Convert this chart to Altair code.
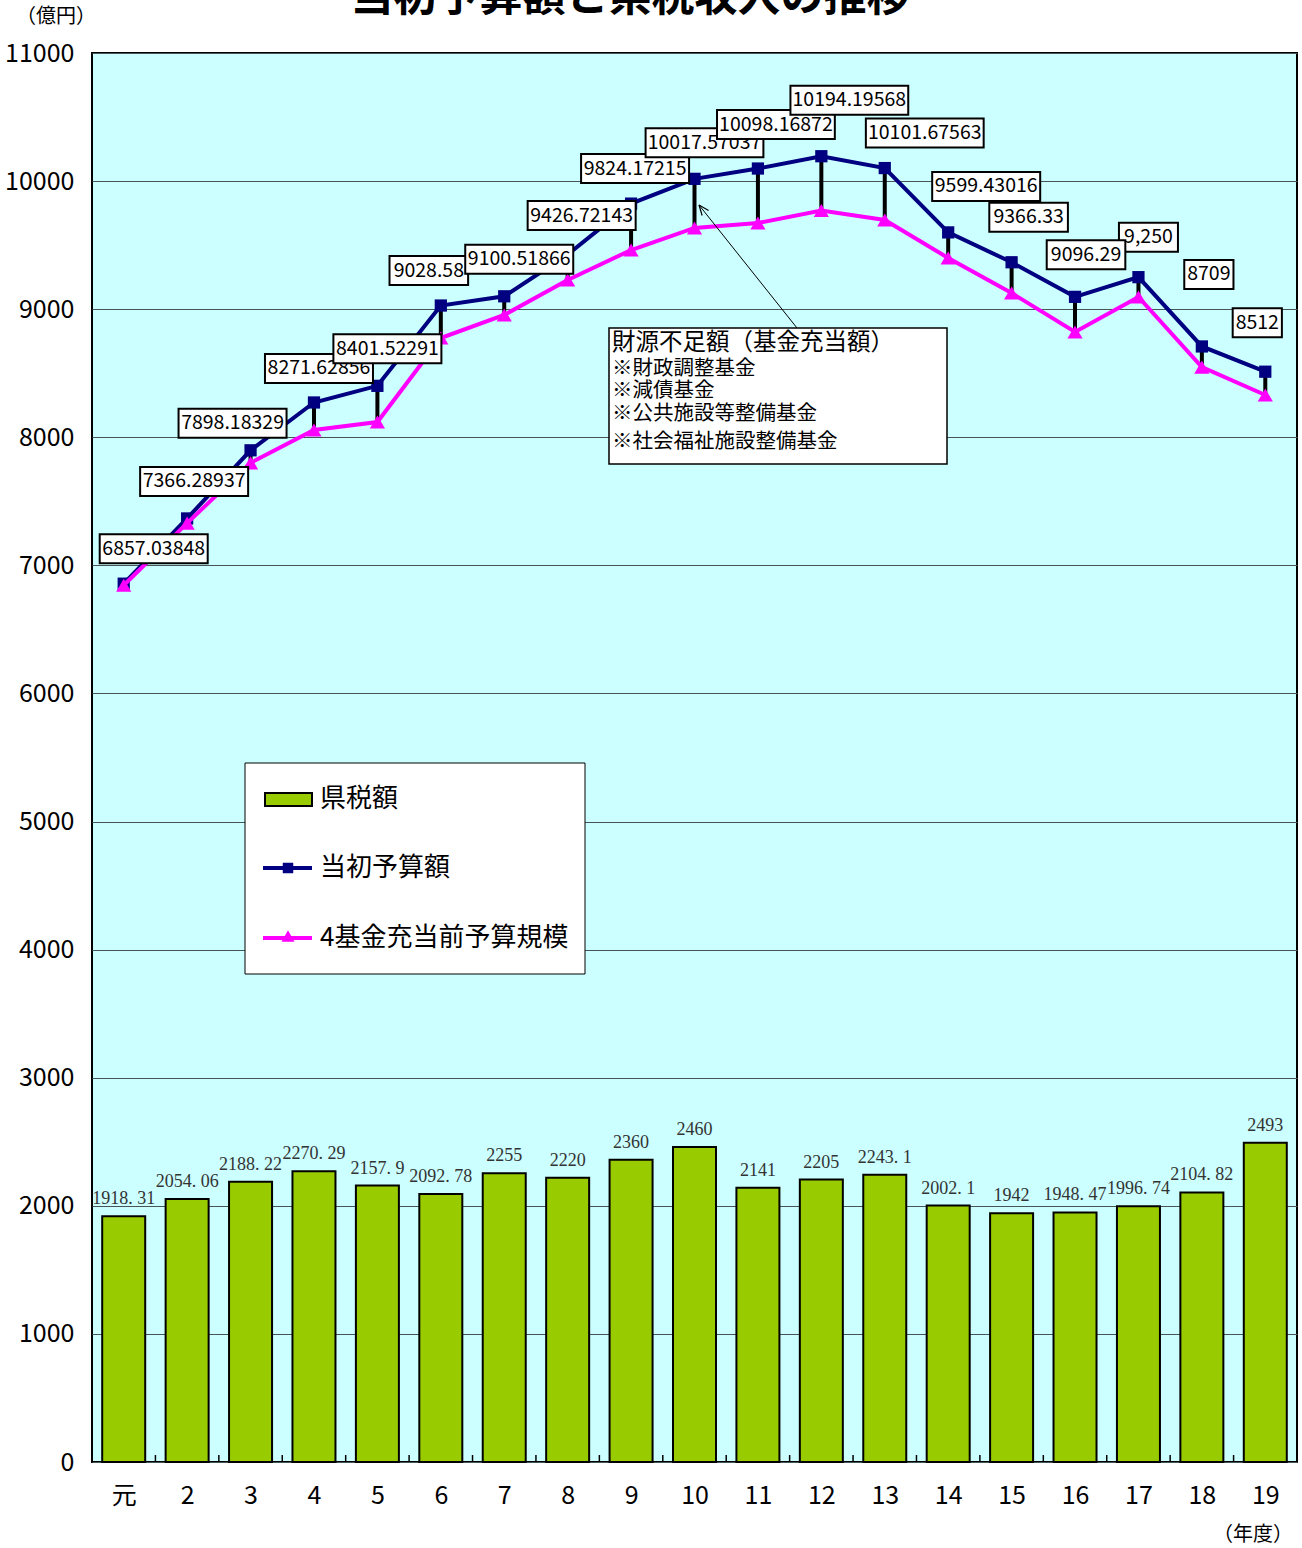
import json
import math

import altair as alt
import pandas as pd

# ---- data -------------------------------------------------------------
years = ["元", "2", "3", "4", "5", "6", "7", "8", "9", "10",
         "11", "12", "13", "14", "15", "16", "17", "18", "19"]

# 県税額 (億円)
tax_revenue = [1918.31, 2054.06, 2188.22, 2270.29, 2157.9, 2092.78, 2255, 2220,
               2360, 2460, 2141, 2205, 2243.1, 2002.1, 1942, 1948.47, 1996.74,
               2104.82, 2493]

# 当初予算額 (億円)
initial_budget = [6857.03848, 7366.28937, 7898.18329, 8271.62856, 8401.52291,
                  9028.58, 9100.51866, 9426.72143, 9824.17215, 10017.57037,
                  10098.16872, 10194.19568, 10101.67563, 9599.43016, 9366.33,
                  9096.29, 9250, 8709, 8512]
budget_labels = ["6857.03848", "7366.28937", "7898.18329", "8271.62856",
                 "8401.52291", "9028.58", "9100.51866", "9426.72143",
                 "9824.17215", "10017.57037", "10098.16872", "10194.19568",
                 "10101.67563", "9599.43016", "9366.33", "9096.29", "9,250",
                 "8709", "8512"]

# 4基金充当前予算規模 (億円)
pre_fund_budget = [6845, 7330, 7800, 8057, 8119, 8775, 8955, 9228, 9462,
                   9634, 9673, 9770, 9696, 9400, 9126, 8822, 9095, 8548, 8330]

# ---- layout / style ---------------------------------------------------
FONT = "Noto Sans CJK JP"
SERIF = "Liberation Serif"
PLOT_W, PLOT_H = 1205, 1409
Y_MAX = 11000
N = len(years)
PX_X = PLOT_W / N          # pixels per category
PX_Y = PLOT_H / Y_MAX      # pixels per 億円

# value-label boxes: pixel offset of each box centre from its point
label_dx = [30, 7, -18, 5, 10, -12, 15, 14, 4, 10, 18, 28, 40, 38, 17, 11, 10, 7, -8]
label_dy = [-35, -37, -27, -34, -37, -35, -37, -39, -35, -36, -44, -56, -35,
            -46, -45, -42, -40, -72, -49]
label_order = list(range(15)) + [16, 15, 17, 18]
BOX_H = 29

df = pd.DataFrame({
    "idx": list(range(N)),
    "year": years,
    "tax": tax_revenue,
    "budget": initial_budget,
    "pink": pre_fund_budget,
    "label": budget_labels,
})
df["tax_text"] = [f"{v:g}".replace(".", ". ") for v in tax_revenue]
box_w = [9.8 * len(s) + 10 for s in budget_labels]
df["bx"] = [i + dx / PX_X for i, dx in zip(df["idx"], label_dx)]
df["bx1"] = [c - w / 2 / PX_X for c, w in zip(df["bx"], box_w)]
df["bx2"] = [c + w / 2 / PX_X for c, w in zip(df["bx"], box_w)]
df["by"] = [v - dy / PX_Y for v, dy in zip(initial_budget, label_dy)]
df["by1"] = df["by"] - (BOX_H / 2) / PX_Y
df["by2"] = df["by"] + (BOX_H / 2) / PX_Y

bounds = pd.DataFrame({"b": [k + 0.5 for k in range(N - 1)]})

x_scale = alt.Scale(domain=[-0.5, N - 0.5], nice=False, zero=False, padding=0)
y_scale = alt.Scale(domain=[0, Y_MAX], nice=False, padding=0)
x_axis = alt.Axis(
    values=list(range(N)),
    labelExpr=f"{json.dumps(years, ensure_ascii=False)}[datum.value]",
    ticks=False, domain=False, grid=False, labelFont=FONT, labelFontSize=25,
    labelColor="black", labelPadding=21, labelFlush=False, labelAngle=0,
    labelOverlap=False,
)
y_axis = alt.Axis(
    values=list(range(0, Y_MAX + 1, 1000)), format="d",
    ticks=False, domain=False, grid=True, gridColor="#465656", gridWidth=1,
    labelFont=FONT, labelFontSize=25, labelColor="black", labelPadding=18,
    labelFlush=False, labelOverlap=False,
)


def X(field):
    return alt.X(field, type="quantitative", scale=x_scale, axis=x_axis, title=None)


def Y(field):
    return alt.Y(field, type="quantitative", scale=y_scale, axis=y_axis, title=None)


base = alt.Chart(df)
one = alt.Chart(alt.Data(values=[{"k": 1}]))

bars = base.mark_bar(size=43, fill="#99CC00", stroke="black", strokeWidth=2).encode(
    x=X("idx"), y=Y("tax"))
bar_text = base.mark_text(font=SERIF, fontSize=18, color="#333333", baseline="middle",
                          dy=-17).encode(x=X("idx"), y=Y("tax"), text="tax_text:N")

ticks = alt.Chart(bounds).mark_rule(color="black", strokeWidth=1.5).encode(
    x=X("b"), y=alt.value(PLOT_H), y2=alt.value(PLOT_H - 7))

gaps = base.mark_rule(color="black", strokeWidth=4).encode(
    x=X("idx"), y=Y("budget"), y2="pink")

blue_line = base.mark_line(color="#000080", strokeWidth=4).encode(x=X("idx"), y=Y("budget"))
blue_pts = base.mark_point(shape="square", filled=True, size=150, color="#000080",
                           opacity=1).encode(x=X("idx"), y=Y("budget"))
pink_line = base.mark_line(color="#FF00FF", strokeWidth=4).encode(x=X("idx"), y=Y("pink"))
pink_pts = base.mark_point(shape="triangle-up", filled=True, size=230, color="#FF00FF",
                           opacity=1).encode(x=X("idx"), y=Y("pink"))

# value labels of 当初予算額, each box drawn together with its own text
label_layers = []
for i in label_order:
    sub = base.transform_filter(alt.datum.idx == i)
    label_layers.append(sub.mark_rect(fill="white", stroke="black", strokeWidth=2).encode(
        x=X("bx1"), x2="bx2", y=Y("by1"), y2="by2"))
    label_layers.append(sub.mark_text(font=FONT, fontSize=19.5, color="black",
                                      baseline="middle").encode(
        x=X("bx"), y=Y("by"), text="label:N"))

# annotation for the gap between the two budget lines
note_box = one.mark_rect(fill="white", stroke="black", strokeWidth=1.5).encode(
    x=alt.value(517), x2=alt.value(855), y=alt.value(275), y2=alt.value(411))
note_lines = [
    ("財源不足額（基金充当額）", 290, 23.5),
    ("※財政調整基金", 316, 20.5),
    ("※減債基金", 338, 20.5),
    ("※公共施設等整備基金", 361, 20.5),
    ("※社会福祉施設整備基金", 389, 20.5),
]
note_texts = [
    one.mark_text(font=FONT, fontSize=fs, color="black", align="left",
                  baseline="middle").encode(x=alt.value(520), y=alt.value(yy),
                                            text=alt.value(t))
    for t, yy, fs in note_lines
]
tip = (607, 152)
tail = (705, 275)
ang = math.atan2(tail[1] - tip[1], tail[0] - tip[0])
head = []
for s in (-1, 1):
    a = ang + s * math.radians(22)
    head.append((tip[0] + 11 * math.cos(a), tip[1] + 11 * math.sin(a)))
arrow = [one.mark_rule(color="black", strokeWidth=1).encode(
    x=alt.value(tip[0]), y=alt.value(tip[1]), x2=alt.value(tail[0]), y2=alt.value(tail[1]))]
for hx, hy in head:
    arrow.append(one.mark_rule(color="black", strokeWidth=1.2).encode(
        x=alt.value(tip[0]), y=alt.value(tip[1]), x2=alt.value(hx), y2=alt.value(hy)))

# legend
legend = [
    one.mark_rect(fill="white", stroke="black", strokeWidth=1).encode(
        x=alt.value(153), x2=alt.value(493), y=alt.value(710), y2=alt.value(921)),
    one.mark_rect(fill="#99CC00", stroke="black", strokeWidth=2).encode(
        x=alt.value(173), x2=alt.value(220), y=alt.value(740), y2=alt.value(753)),
    one.mark_rule(color="#000080", strokeWidth=4).encode(
        x=alt.value(171), x2=alt.value(220), y=alt.value(815)),
    one.mark_point(shape="square", filled=True, size=110, color="#000080", opacity=1).encode(
        x=alt.value(196), y=alt.value(815)),
    one.mark_rule(color="#FF00FF", strokeWidth=4).encode(
        x=alt.value(171), x2=alt.value(220), y=alt.value(885)),
    one.mark_point(shape="triangle-up", filled=True, size=170, color="#FF00FF",
                   opacity=1).encode(x=alt.value(196), y=alt.value(883)),
]
for t, yy in (("県税額", 746), ("当初予算額", 815), ("4基金充当前予算規模", 885)):
    legend.append(one.mark_text(font=FONT, fontSize=26, color="black", align="left",
                                baseline="middle").encode(
        x=alt.value(228), y=alt.value(yy), text=alt.value(t)))

# title and units
extras = [
    one.mark_text(font=FONT, fontSize=43, fontWeight="bold", color="black",
                  align="center").encode(
        x=alt.value(538), y=alt.value(-55), text=alt.value("当初予算額と県税収入の推移")),
    one.mark_text(font=FONT, fontSize=20, color="black", align="center",
                  baseline="middle").encode(
        x=alt.value(-36), y=alt.value(-36), text=alt.value("（億円）")),
    one.mark_text(font=FONT, fontSize=20, color="black", align="center",
                  baseline="middle").encode(
        x=alt.value(1161), y=alt.value(1482), text=alt.value("（年度）")),
]

chart = alt.layer(
    bars, bar_text, ticks, gaps, blue_line, blue_pts, pink_line, pink_pts,
    *label_layers, note_box, *note_texts, *arrow, *legend, *extras,
).properties(
    width=PLOT_W, height=PLOT_H,
    autosize=alt.AutoSizeParams(type="none"),
    padding={"left": 92, "top": 53, "right": 5, "bottom": 86},
    background="white",
).configure_view(fill="#CCFFFF", stroke="black", strokeWidth=2)

chart.save("out.html", embed_options={"renderer": "svg", "actions": False})
